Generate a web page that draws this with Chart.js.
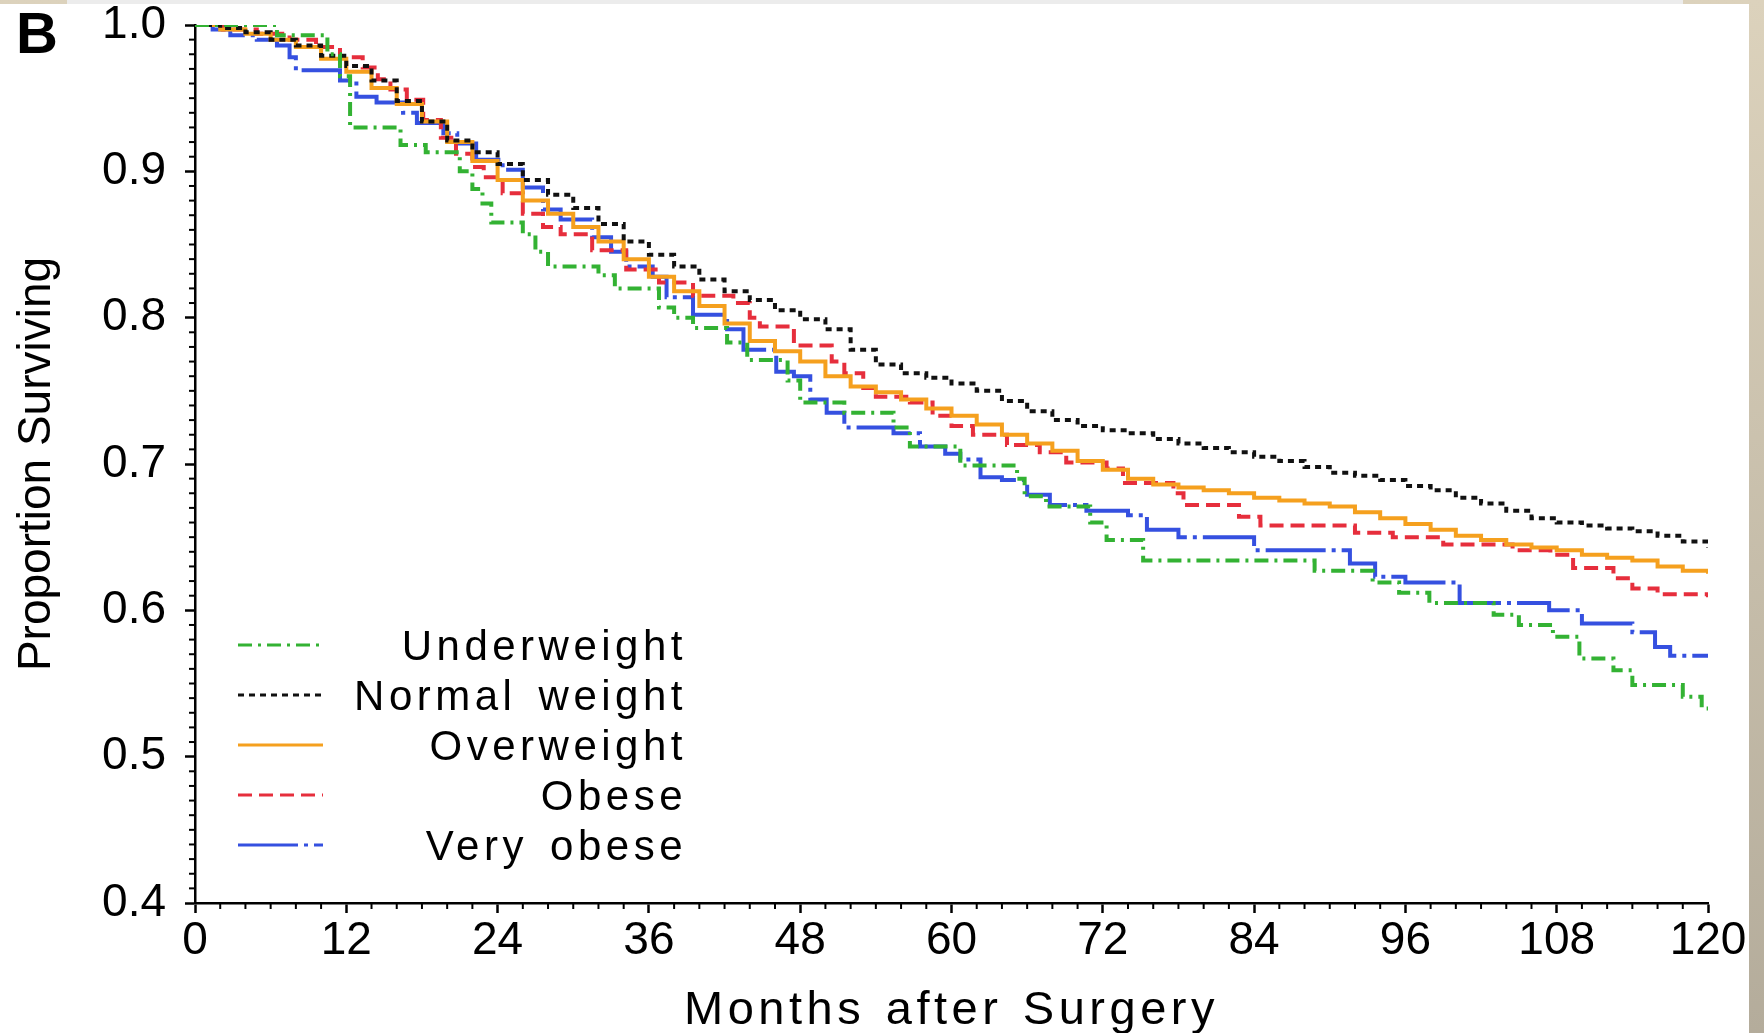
<!DOCTYPE html>
<html lang="en">
<head>
<meta charset="UTF-8" />
<title>Proportion Surviving by BMI Group</title>
<script src="https://cdn.jsdelivr.net/npm/chart.js"></script>
<style>
  body {
    margin: 0;
    width: 1764px;
    height: 1033px;
    overflow: hidden;
    position: relative;
    background: linear-gradient(#dcd2bc, #b4ac9b);
    font-family: "Liberation Sans", Arial, sans-serif;
  }
  .strip { position: absolute; left: 67px; top: 0; width: 1616px; height: 4px; background: #ececec; }
  .panel { position: absolute; left: 0; top: 4px; width: 1749px; height: 1029px; background: #fff; }
  .chart-box { position: absolute; left: 0; top: 0; width: 1749px; height: 1033px; }
</style>
</head>
<body>
<div class="strip"></div>
<div class="panel"></div>
<div class="chart-box"><canvas id="survChart"></canvas></div>

<script>
// Kaplan-Meier estimates: month of each step and survival after the step
const underMonths  = [0, 6.5, 10.5, 11.5, 12.3, 16.3, 18.3, 21, 22, 22.8, 23.5, 26, 27, 28, 32, 33.3, 36.8, 38, 39.5, 42.2, 43.8, 47, 48, 51.5, 55.4, 56.7, 60.7, 65.2, 65.8, 67.5, 71, 72.3, 75.2, 88.8, 93.4, 95.5, 97.9, 103, 105, 107.7, 109.8, 112.5, 114, 118, 119.5, 120];
const underSurv    = [1, 0.993, 0.98, 0.965, 0.93, 0.918, 0.913, 0.9, 0.888, 0.878, 0.865, 0.857, 0.845, 0.835, 0.829, 0.82, 0.807, 0.8, 0.793, 0.783, 0.771, 0.757, 0.742, 0.735, 0.725, 0.712, 0.699, 0.69, 0.678, 0.671, 0.66, 0.648, 0.634, 0.627, 0.619, 0.612, 0.605, 0.597, 0.59, 0.582, 0.567, 0.559, 0.549, 0.541, 0.533, 0.533];

const normalMonths = [0, 2, 4, 6, 8, 10, 12, 14, 16, 18, 20, 22, 24, 26, 28, 30, 32, 34, 36, 38, 40, 42, 44, 46, 48, 50, 52, 54, 56, 58, 60, 62, 64, 66, 68, 70, 72, 74, 76, 78, 80, 82, 84, 86, 88, 90, 92, 94, 96, 98, 100, 102, 104, 106, 108, 110, 112, 114, 116, 118, 120];
const normalSurv   = [1, 0.998, 0.995, 0.99, 0.986, 0.979, 0.972, 0.962, 0.948, 0.934, 0.921, 0.913, 0.905, 0.894, 0.884, 0.875, 0.864, 0.852, 0.843, 0.835, 0.826, 0.818, 0.812, 0.805, 0.799, 0.792, 0.778, 0.768, 0.762, 0.759, 0.755, 0.75, 0.743, 0.736, 0.73, 0.726, 0.723, 0.721, 0.717, 0.714, 0.711, 0.708, 0.705, 0.702, 0.698, 0.694, 0.692, 0.689, 0.685, 0.682, 0.677, 0.673, 0.668, 0.663, 0.66, 0.658, 0.656, 0.654, 0.651, 0.647, 0.643];

const overMonths   = [0, 2, 4, 6, 8, 10, 12, 14, 16, 18, 20, 22, 24, 26, 28, 30, 32, 34, 36, 38, 40, 42, 44, 46, 48, 50, 52, 54, 56, 58, 60, 62, 64, 66, 68, 70, 72, 74, 76, 78, 80, 82, 84, 86, 88, 90, 92, 94, 96, 98, 100, 102, 104, 106, 108, 110, 112, 114, 116, 118, 120];
const overSurv     = [1, 0.997, 0.994, 0.99, 0.985, 0.977, 0.968, 0.957, 0.946, 0.934, 0.92, 0.907, 0.894, 0.88, 0.871, 0.862, 0.852, 0.84, 0.828, 0.818, 0.808, 0.796, 0.784, 0.777, 0.77, 0.76, 0.753, 0.749, 0.744, 0.738, 0.733, 0.727, 0.72, 0.714, 0.709, 0.702, 0.696, 0.69, 0.686, 0.684, 0.682, 0.68, 0.677, 0.675, 0.673, 0.671, 0.667, 0.663, 0.659, 0.655, 0.651, 0.648, 0.645, 0.643, 0.641, 0.638, 0.636, 0.634, 0.63, 0.627, 0.625];

const obeseMonths  = [0, 2.2, 4.9, 7.5, 9.6, 11.5, 13.3, 14.5, 15.5, 16.8, 18.1, 19.5, 20.7, 22, 22.9, 24.4, 26, 27.6, 29, 31.5, 34.2, 36.8, 39.5, 42.7, 44, 44.8, 47.5, 50.5, 51.5, 53, 54, 56.7, 58.5, 60, 61.7, 64.4, 67, 69.1, 72.3, 73.6, 77.6, 78.4, 82.8, 84.5, 92, 95, 99, 104.5, 107.5, 109.3, 112.5, 114, 116, 120];
const obeseSurv    = [1, 0.997, 0.994, 0.99, 0.985, 0.978, 0.971, 0.963, 0.956, 0.949, 0.935, 0.923, 0.912, 0.903, 0.896, 0.885, 0.871, 0.862, 0.857, 0.846, 0.833, 0.824, 0.815, 0.81, 0.8, 0.794, 0.781, 0.77, 0.762, 0.752, 0.746, 0.742, 0.733, 0.726, 0.72, 0.713, 0.708, 0.701, 0.697, 0.687, 0.68, 0.672, 0.664, 0.658, 0.653, 0.65, 0.645, 0.641, 0.638, 0.629, 0.622, 0.615, 0.611, 0.609];

const veryMonths   = [0, 1.4, 2.8, 4.9, 6.5, 7.5, 8, 11.5, 12.8, 14.4, 16.5, 17.6, 19.7, 20.8, 22.3, 24.4, 26, 27.6, 29, 31.5, 33, 34.2, 36.3, 37.4, 39.5, 42.2, 43.5, 46.1, 47.5, 48.8, 50.1, 51.5, 55.4, 57.5, 59.5, 60.7, 62.3, 64, 66, 67.8, 70.7, 74, 75.5, 78, 84, 91.6, 93.6, 96, 100.3, 107.4, 110, 114, 115.8, 117, 120];
const verySurv     = [1, 0.997, 0.993, 0.99, 0.986, 0.978, 0.969, 0.962, 0.951, 0.947, 0.94, 0.933, 0.926, 0.919, 0.908, 0.901, 0.889, 0.874, 0.867, 0.855, 0.845, 0.835, 0.828, 0.814, 0.802, 0.792, 0.778, 0.763, 0.76, 0.744, 0.735, 0.725, 0.721, 0.712, 0.707, 0.703, 0.691, 0.689, 0.679, 0.672, 0.668, 0.665, 0.655, 0.65, 0.641, 0.632, 0.623, 0.619, 0.605, 0.6, 0.591, 0.585, 0.575, 0.569, 0.569];

const groupNames = ['Underweight', 'Normal weight', 'Overweight', 'Obese', 'Very obese'];
const xTicks = [0, 12, 24, 36, 48, 60, 72, 84, 96, 108, 120];
const yTicks = [0.4, 0.5, 0.6, 0.7, 0.8, 0.9, 1.0];

const FONT = '"Liberation Sans", Arial, Helvetica, sans-serif';

function toPoints(months, surv) {
  return months.map((m, i) => ({ x: m, y: surv[i] }));
}

const series = [
  { months: underMonths,  surv: underSurv,  color: '#33b233', dash: [14, 6, 3, 6] },
  { months: normalMonths, surv: normalSurv, color: '#111111', dash: [6, 5] },
  { months: overMonths,   surv: overSurv,   color: '#f5a01e', dash: [] },
  { months: obeseMonths,  surv: obeseSurv,  color: '#e62e3c', dash: [14, 7] },
  { months: veryMonths,   surv: verySurv,   color: '#3550e0', dash: [60, 6, 4, 6] }
];

const datasets = series.map((s, i) => ({
  label: groupNames[i],
  data: toPoints(s.months, s.surv),
  borderColor: s.color,
  borderDash: s.dash,
  borderWidth: 4,
  pointRadius: 0,
  stepped: true,
  fill: false
}));

// drop the label overhang so the plot box sits where the layout padding puts it
function noOverhang(scale) {
  scale.paddingTop = 0;
  scale.paddingBottom = 0;
  scale.paddingLeft = 0;
  scale.paddingRight = 0;
}

// minor ticks, legend inside the plot, x-axis title and panel letter
const decorations = {
  id: 'decorations',
  afterDraw(chart) {
    const ctx = chart.ctx;
    const area = chart.chartArea;
    const xs = chart.scales.x, ys = chart.scales.y;

    ctx.save();
    ctx.strokeStyle = '#000';
    ctx.lineWidth = 2;
    for (let m = 2; m < 120; m += 2) {
      if (m % 12 === 0) continue;
      const px = xs.getPixelForValue(m);
      ctx.beginPath();
      ctx.moveTo(px, area.bottom);
      ctx.lineTo(px, area.bottom + 6);
      ctx.stroke();
    }
    for (let k = 41; k < 100; k++) {
      if (k % 10 === 0) continue;
      const py = ys.getPixelForValue(k / 100);
      ctx.beginPath();
      ctx.moveTo(area.left - 6, py);
      ctx.lineTo(area.left, py);
      ctx.stroke();
    }

    // legend
    ctx.fillStyle = '#000';
    ctx.font = '42px ' + FONT;
    ctx.letterSpacing = '4.5px';
    ctx.wordSpacing = '6px';
    ctx.textAlign = 'right';
    ctx.textBaseline = 'alphabetic';
    chart.data.datasets.forEach((ds, i) => {
      const ly = 645 + i * 50;
      ctx.save();
      ctx.strokeStyle = ds.borderColor;
      ctx.lineWidth = 3;
      ctx.setLineDash(ds.borderDash);
      ctx.beginPath();
      ctx.moveTo(238, ly);
      ctx.lineTo(323, ly);
      ctx.stroke();
      ctx.restore();
      ctx.fillText(ds.label, 687, ly + 15);
    });

    // x-axis title
    ctx.font = '47px ' + FONT;
    ctx.letterSpacing = '4.5px';
    ctx.wordSpacing = '3px';
    ctx.textAlign = 'center';
    ctx.fillText('Months after Surgery', (area.left + area.right) / 2, 1024);

    // panel letter
    ctx.letterSpacing = '0px';
    ctx.wordSpacing = '0px';
    ctx.font = 'bold 58px ' + FONT;
    ctx.textAlign = 'left';
    ctx.fillText('B', 16, 53);
    ctx.restore();
  }
};

new Chart(document.getElementById('survChart'), {
  type: 'line',
  data: { datasets },
  options: {
    responsive: true,
    maintainAspectRatio: false,
    animation: false,
    events: [],
    layout: { padding: { top: 25, right: 41, left: 0, bottom: 0 } },
    plugins: {
      legend: { display: false },
      tooltip: { enabled: false }
    },
    scales: {
      x: {
        type: 'linear',
        min: 0,
        max: 120,
        afterFit: scale => { scale.height = 130; noOverhang(scale); },
        afterBuildTicks: scale => { scale.ticks = xTicks.map(v => ({ value: v })); },
        ticks: {
          autoSkip: false,
          maxRotation: 0,
          padding: 5,
          color: '#000',
          font: { family: FONT, size: 46, lineHeight: 1 }
        },
        grid: { drawOnChartArea: false, drawTicks: true, tickLength: 10, tickColor: '#000', tickWidth: 2.5 },
        border: { display: true, color: '#000', width: 2.5 }
      },
      y: {
        type: 'linear',
        min: 0.4,
        max: 1.0,
        afterFit: scale => { scale.width = 195; noOverhang(scale); },
        afterBuildTicks: scale => { scale.ticks = yTicks.map(v => ({ value: v })); },
        ticks: {
          autoSkip: false,
          padding: 19,
          color: '#000',
          font: { family: FONT, size: 46, lineHeight: 1 },
          callback: v => Number(v).toFixed(1)
        },
        grid: { drawOnChartArea: false, drawTicks: true, tickLength: 10, tickColor: '#000', tickWidth: 2.5 },
        border: { display: true, color: '#000', width: 2.5 },
        title: {
          display: true,
          text: 'Proportion Surviving',
          color: '#000',
          padding: { top: 10, bottom: 0 },
          font: { family: FONT, size: 46, lineHeight: 1.2 }
        }
      }
    }
  },
  plugins: [decorations]
});
</script>
</body>
</html>
